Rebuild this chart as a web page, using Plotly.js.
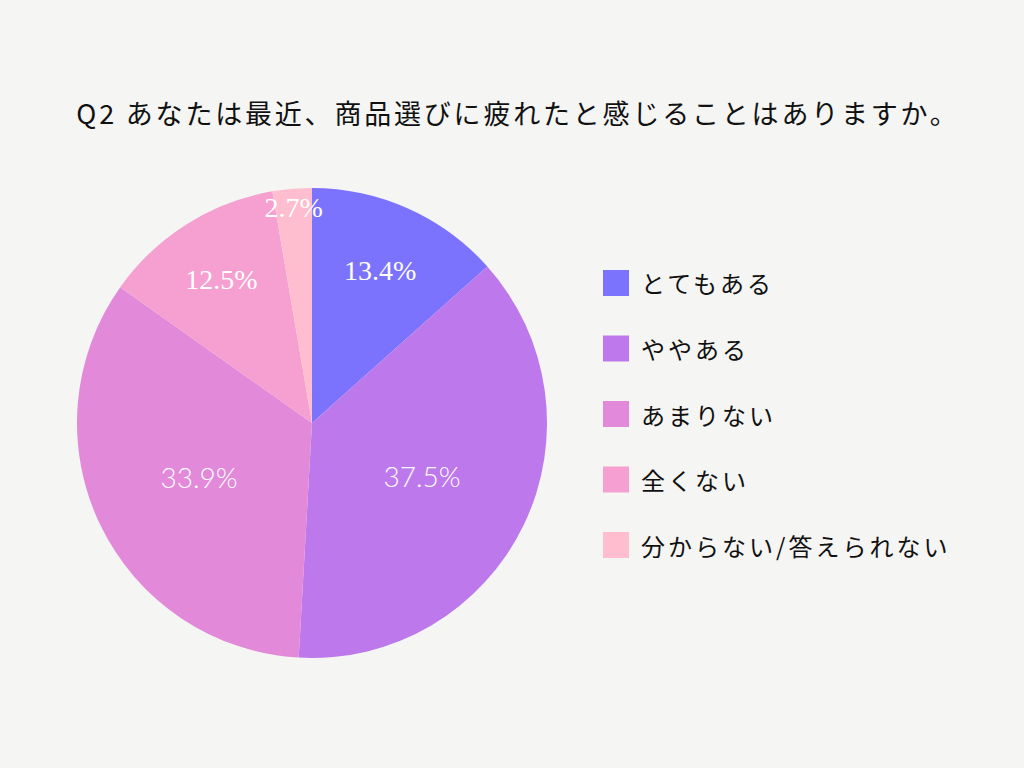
<!DOCTYPE html>
<html><head><meta charset="utf-8">
<script src="https://cdn.plot.ly/plotly-3.0.1.min.js"></script>
<style>
html,body{margin:0;padding:0;background:#f5f5f3;}
.gtitle{letter-spacing:2.8px;}
.annotation-text{letter-spacing:3.0px;}
</style>
</head><body>
<div id="chart" style="width:1024px;height:768px;"></div>
<script>
var titleText = "Q2 あなたは最近、商品選びに疲れたと感じることはありますか。";
var categories = ["とてもある", "ややある", "あまりない", "全くない", "分からない/答えられない"];
var values = [13.4, 37.5, 33.9, 12.5, 2.7];
var colors = ["#7b73fe", "#bd78eb", "#e289da", "#f5a0d0", "#febed0"];
var labelFonts = ["Liberation Serif", "Lato", "Lato", "Liberation Serif", "Liberation Serif"];

var cjk = "Noto Sans CJK JP";
var pie = {
  type: "pie",
  labels: categories,
  values: values,
  sort: false,
  direction: "clockwise",
  rotation: 0,
  marker: {colors: colors, line: {width: 0}},
  texttemplate: "%{value:.1f}%",
  textposition: "inside",
  insidetextorientation: "horizontal",
  textfont: {family: labelFonts, size: 28, weight: 300, color: "#ffffff"},
  showlegend: false,
  hoverinfo: "label+percent",
  domain: {x: [77/1024, 547/1024], y: [1 - 658/768, 1 - 188/768]}
};

var shapes = [], annotations = [];
var legX0 = 603/1024, legW = 26/1024, legTop = 283, legStep = 65.5, sq = 26;
categories.forEach(function(c, i) {
  var yc = legTop + i * legStep;
  shapes.push({type: "rect", xref: "paper", yref: "paper",
    x0: legX0, x1: legX0 + legW,
    y0: 1 - (yc + sq/2)/768, y1: 1 - (yc - sq/2)/768,
    fillcolor: colors[i], line: {width: 0}});
  annotations.push({xref: "paper", yref: "paper", x: 639/1024, y: 1 - yc/768,
    xanchor: "left", yanchor: "middle", showarrow: false, text: c,
    font: {family: cjk, size: 24, color: "#111111"}});
});

var layout = {
  width: 1024, height: 768,
  paper_bgcolor: "#f5f5f3", plot_bgcolor: "#f5f5f3",
  margin: {l: 0, r: 0, t: 0, b: 0},
  title: {text: titleText, x: 518/1024, xanchor: "center", y: 1 - 115/768, yanchor: "middle",
    font: {family: cjk, size: 27, color: "#111111"}},
  uniformtext: {mode: "show", minsize: 28},
  shapes: shapes,
  annotations: annotations,
  showlegend: false
};
Plotly.newPlot("chart", [pie], layout, {displayModeBar: false, staticPlot: true});
</script>
</body></html>
